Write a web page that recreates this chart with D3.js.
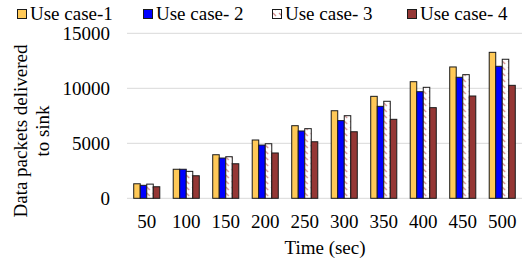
<!DOCTYPE html>
<html>
<head>
<meta charset="utf-8">
<script src="https://cdn.jsdelivr.net/npm/d3@7"></script>
<style>
  body { margin: 0; background: #fff; }
</style>
</head>
<body>
<script>
var times = ["50","100","150","200","250","300","350","400","450","500"];
var seriesNames = ["Use case-1","Use case- 2","Use case- 3","Use case- 4"];
var case1 = [1320, 2640, 3960, 5300, 6600, 7960, 9270, 10600, 11940, 13270];
var case2 = [1180, 2640, 3660, 4840, 6120, 7060, 8360, 9690, 11000, 12000];
var case3 = [1290, 2450, 3780, 4960, 6330, 7510, 8820, 10090, 11240, 12640];
var case4 = [1050, 2050, 3140, 4120, 5140, 6050, 7180, 8240, 9300, 10270];
var yTicks = [0, 5000, 10000, 15000];

var W = 523, H = 267;
var fills = ["#FFC957", "#0000FF", "url(#hatch)", "#953735"];
var allSeries = [case1, case2, case3, case4];
var serif = "'Liberation Serif', 'Times New Roman', Times, serif";

var svg = d3.select("body").append("svg").attr("width", W).attr("height", H);

var defs = svg.append("defs");
var pat = defs.append("pattern").attr("id", "hatch")
  .attr("patternUnits", "userSpaceOnUse").attr("width", 6).attr("height", 6);
pat.append("rect").attr("width", 6).attr("height", 6).attr("fill", "#fff");
pat.append("line").attr("x1", 1).attr("y1", 1).attr("x2", 4).attr("y2", 4)
  .attr("stroke", "#d08a8a").attr("stroke-width", 1.2);

var x0 = d3.scaleBand().domain(times).range([127, 522]).paddingInner(0.34).paddingOuter(0.17);
var x1 = d3.scaleBand().domain(d3.range(4)).range([0, x0.bandwidth()]);
var y = d3.scaleLinear().domain([0, 15000]).range([198.3, 33.3]);

// grid
svg.append("g").selectAll("line").data(yTicks).join("line")
  .attr("x1", 127).attr("x2", 522)
  .attr("y1", function(d){ return y(d); }).attr("y2", function(d){ return y(d); })
  .attr("stroke", "#d9d9d9").attr("stroke-width", 1);

// y tick labels
svg.append("g").selectAll("text").data(yTicks).join("text")
  .attr("x", 110).attr("y", function(d){ return y(d); })
  .attr("dy", "0.35em").attr("text-anchor", "end")
  .attr("font-family", serif).attr("font-size", 19).text(function(d){ return d; });

// bars
var groups = svg.append("g").selectAll("g").data(times).join("g")
  .attr("transform", function(d){ return "translate(" + x0(d) + ",0)"; });
groups.selectAll("rect").data(function(d, i){
    return allSeries.map(function(s, k){ return {k: k, v: s[i]}; });
  }).join("rect")
  .attr("x", function(d){ return x1(d.k); })
  .attr("y", function(d){ return y(d.v); })
  .attr("width", x1.bandwidth())
  .attr("height", function(d){ return y(0) - y(d.v); })
  .attr("fill", function(d){ return fills[d.k]; })
  .attr("stroke", "#1a1a1a").attr("stroke-width", 1);

// x tick labels
svg.append("g").selectAll("text").data(times).join("text")
  .attr("x", function(d){ return x0(d) + x0.bandwidth() / 2; })
  .attr("y", 228).attr("text-anchor", "middle")
  .attr("font-family", serif).attr("font-size", 19).text(function(d){ return d; });

svg.append("text").attr("x", 325).attr("y", 254).attr("text-anchor", "middle")
  .attr("font-family", serif).attr("font-size", 19).text("Time (sec)");

var yl = svg.append("text").attr("text-anchor", "middle")
  .attr("font-family", serif).attr("font-size", 19)
  .attr("transform", "translate(27,131) rotate(-90)");
yl.append("tspan").attr("x", 0).attr("y", 0).text("Data packets delivered");
yl.append("tspan").attr("x", 0).attr("y", 22).text("to sink");

// legend
var legX = [17, 143, 272, 407];
var leg = svg.append("g").selectAll("g").data(seriesNames).join("g")
  .attr("transform", function(d, i){ return "translate(" + legX[i] + ",0)"; });
leg.append("rect").attr("x", 0.5).attr("y", 9.5).attr("width", 9).attr("height", 9)
  .attr("fill", function(d, i){ return fills[i]; })
  .attr("stroke", "#1a1a1a").attr("stroke-width", 1);
leg.append("text").attr("x", 13).attr("y", 20)
  .attr("font-family", serif).attr("font-size", 19)
  .text(function(d){ return d; });
</script>
</body>
</html>
